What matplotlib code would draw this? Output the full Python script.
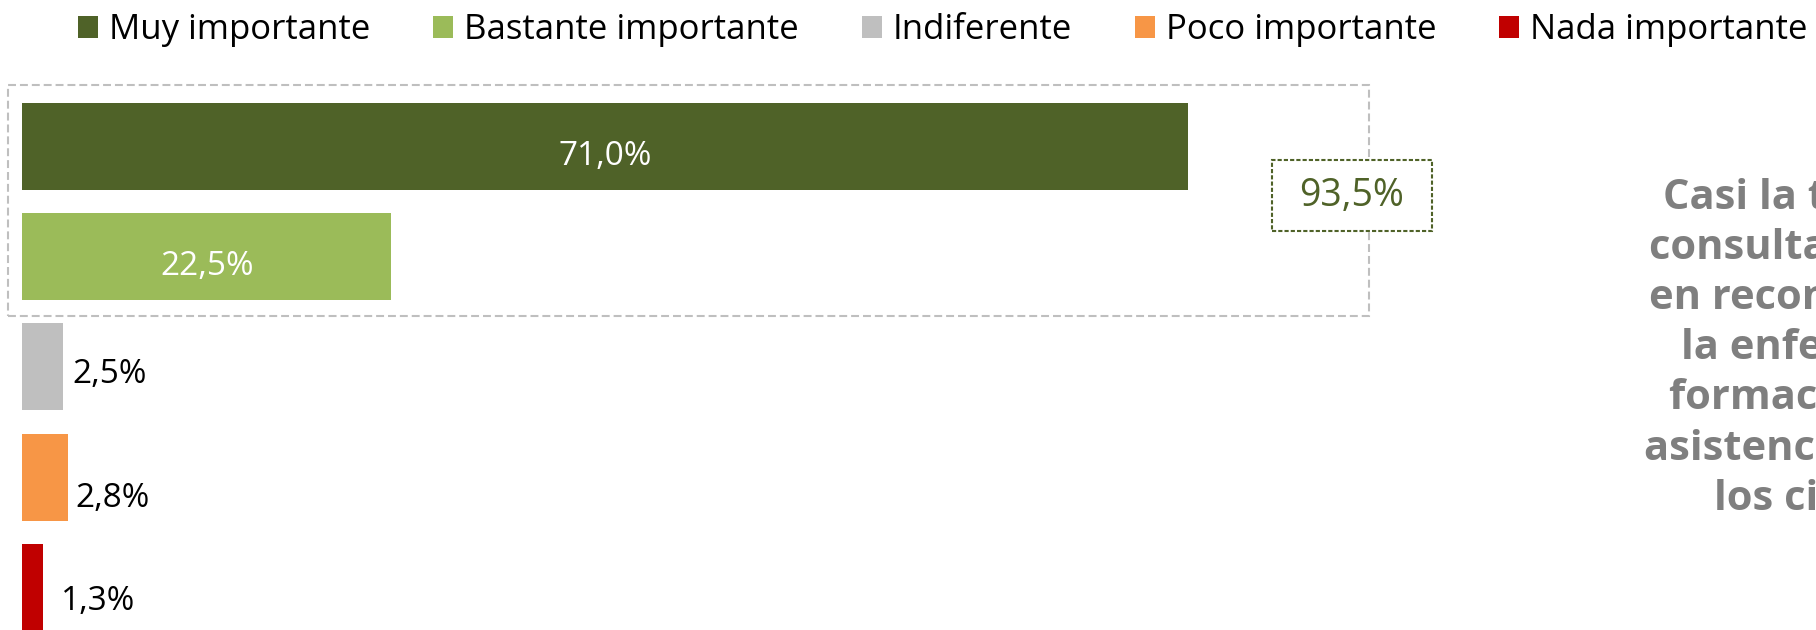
import matplotlib
matplotlib.use('Agg')
import matplotlib.pyplot as plt
from matplotlib.patches import Rectangle, Patch

# ---- data ----
categories = ['Muy importante', 'Bastante importante', 'Indiferente',
              'Poco importante', 'Nada importante']
values = [71.0, 22.5, 2.5, 2.8, 1.3]
colors = ['#4f6228', '#9bbb59', '#bfbfbf', '#f79646', '#c00000']
combined_label = '93,5%'
note_lines = ['Casi la totalidad de los', 'consultados coincide',
              'en reconocer el papel de', 'la enfermería en la',
              'formación y en la', 'asistencia sanitaria de',
              'los ciudadanos']

# ---- layout ----
W, H = 1816, 630
plt.rcParams['font.family'] = ['Open Sans', 'DejaVu Sans']
fig = plt.figure(figsize=(W / 100, H / 100), dpi=100)

px_per_unit = 16.42
x0 = 22
pitch = 110.25
c0 = 146.5
ax = fig.add_axes([x0 / W, 0, 1 - x0 / W, 1])
ax.set_xlim(0, (W - x0) / px_per_unit)
ax.set_ylim((H - c0) / pitch, (0 - c0) / pitch)
ypos = list(range(len(values)))
bars = ax.barh(ypos, values, height=87 / pitch, color=colors)
ax.axis('off')

inside = [True, True, False, False, False]
dy_px = [-10, -10, -8, -21, -14]
dx_px = [0, 0, 9, 7, 18]
for b, v, ins, dy, dx in zip(bars, values, inside, dy_px, dx_px):
    lab = f"{v:.1f}%".replace('.', ',')
    yc = b.get_y() + b.get_height() / 2
    if ins:
        ax.annotate(lab, (b.get_width() / 2, yc), xytext=(dx, dy),
                    textcoords='offset pixels', ha='center', va='center',
                    color='white', fontsize=24)
    else:
        ax.annotate(lab, (b.get_width(), yc), xytext=(dx, dy),
                    textcoords='offset pixels', ha='left', va='center',
                    color='black', fontsize=24)


def fx(p):
    return p / W


def fy(p):
    return 1 - p / H


# dashed grouping box
fig.add_artist(Rectangle((fx(8), fy(316)), fx(1369 - 8), (316 - 85) / H,
                         transform=fig.transFigure, fill=False,
                         ec='#bfbfbf', lw=1.5, ls=(0, (3.8, 1.9))))
# combined value box
fig.add_artist(Rectangle((fx(1272), fy(231)), fx(1432 - 1272), (231 - 160) / H,
                         transform=fig.transFigure, fc='white',
                         ec='#4f6228', lw=1.5, ls=(0, (2.0, 1.0))))
fig.text(fx(1352), fy(196), combined_label, ha='center', va='center',
         color='#4f6228', fontsize=27)

# note text (clipped at the right edge)
note_x = [1663, 1649, 1649, 1681, 1669, 1644, 1714]
note_y = [209, 259, 309, 359, 409, 460, 510]
for t, x, y in zip(note_lines, note_x, note_y):
    fig.text(fx(x), fy(y), t, ha='left', va='baseline', color='#7f7f7f',
             fontsize=30, fontweight='bold')

# legend
handles = [Patch(facecolor=c, edgecolor='none') for c in colors]
fig.legend(handles, categories, loc='center left',
           bbox_to_anchor=(fx(78), fy(30)), ncol=5, frameon=False,
           fontsize=25, handlelength=0.58, handleheight=0.58,
           handletextpad=0.32, columnspacing=1.8, borderpad=0,
           borderaxespad=0)

fig.savefig('out.png', dpi=100)
